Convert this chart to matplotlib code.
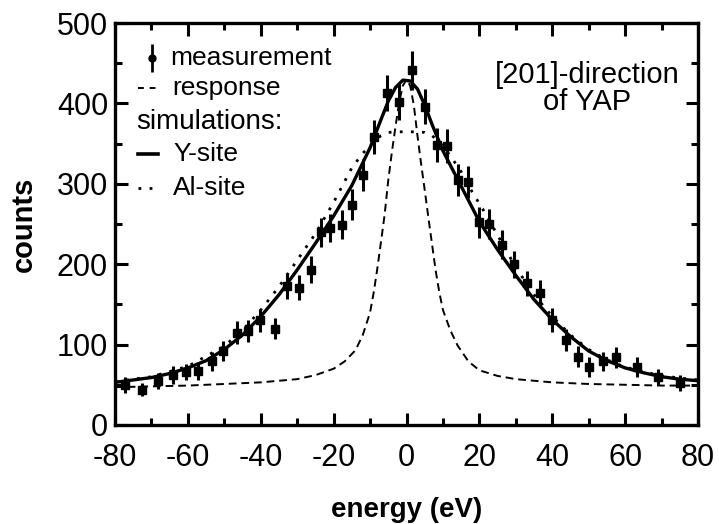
## energy spectrum along [201] of YAP: measurement vs response and site simulations

import numpy as np
import matplotlib
matplotlib.use("Agg")
import matplotlib.pyplot as plt
from matplotlib.ticker import MultipleLocator

plt.rcParams['font.family'] = ['Liberation Sans', 'DejaVu Sans']
plt.rcParams['axes.unicode_minus'] = False

# measured points (eV, counts, error)
meas_x = [-77.3, -72.5, -68.3, -64.0, -60.4, -57.2, -53.5, -50.3, -46.5, -43.4,
          -40.1, -36.2, -32.9, -29.5, -26.3, -23.5, -21.0, -17.8, -15.0, -12.0,
          -8.8, -5.4, -2.0, 1.5, 5.1, 8.5, 11.1, 14.0, 17.0, 19.8,
          22.7, 26.1, 29.5, 33.0, 36.6, 39.9, 43.8, 47.0, 50.2, 53.8,
          57.5, 63.3, 69.0, 75.0]
meas_y = [50, 44, 55, 62, 66, 67, 79, 92, 115, 117,
          130, 120, 173, 171, 193, 240, 245, 249, 274, 311,
          358, 413, 402, 441, 396, 348, 347, 305, 302, 252,
          250, 224, 200, 176, 164, 131, 106, 85, 72, 79,
          84, 72, 60, 52]
meas_err = [10, 8, 10, 11, 10, 11, 12, 13, 14, 14,
            14, 13, 16, 16, 17, 18, 18, 18, 19, 20,
            21, 22, 22, 24, 22, 21, 21, 20, 20, 19,
            19, 18, 17, 16, 16, 15, 14, 13, 12, 12,
            13, 12, 10, 10]

# response function (dashed)
resp_x = [-80, -70, -60, -50, -40, -30, -25, -20, -17, -14, -12, -10, -9, -8, -7,
          -6, -5, -4, -3, -2, -1, 0, 1, 2, 3, 4, 5, 6, 7, 8, 9, 10, 12, 14, 17,
          20, 25, 30, 40, 50, 60, 70, 80]
resp_y = [47, 48, 49, 51, 53, 57, 62, 70, 79, 93, 112, 140, 165, 195, 228,
          262, 305, 340, 372, 402, 422, 430, 422, 398, 360, 325, 292, 258, 225, 192, 165, 143, 118, 99, 79,
          68, 61, 57, 53, 51, 50, 49, 49]

# Y-site simulation (solid)
ysite_x = [-80, -75, -70, -65, -60, -55, -50, -45, -40, -35, -30, -25, -20, -15, -10,
           -7, -5, -3, -1, 1, 3, 5, 7, 10, 15, 20, 25, 30, 35, 40, 45, 50, 55, 60,
           65, 70, 75, 80]
ysite_y = [53, 56, 59, 64, 71, 80, 94, 112, 135, 162, 193, 226, 260, 298, 345,
           380, 403, 420, 429, 428, 418, 398, 374, 341, 297, 253, 218, 186, 156, 131, 110, 92, 80, 71,
           65, 60, 57, 55]

# Al-site simulation (dotted)
alsite_x = [-80, -70, -60, -50, -45, -40, -35, -30, -25, -20, -15, -12, -9, -7, -5,
            0, 5, 7, 9, 12, 15, 18, 21, 25, 30, 35, 40, 45, 50, 55, 60, 70, 80]
alsite_y = [54, 60, 73, 98, 118, 143, 172, 205, 238, 277, 320, 338, 352, 360, 364,
            365, 364, 360, 352, 335, 315, 290, 268, 236, 196, 162, 135, 112, 94, 81, 72, 61, 56]

fig = plt.figure(figsize=(7.19, 5.24), dpi=100)
ax = fig.add_axes([0.16, 0.189, 0.8108, 0.767])

ax.plot(resp_x, resp_y, color='black', lw=1.4, ls=(0, (4, 2.5)))
ax.plot(alsite_x, alsite_y, color='black', lw=2.0, ls=(0, (1, 3)))
ax.plot(ysite_x, ysite_y, color='black', lw=2.4, solid_capstyle='round')
ax.errorbar(meas_x, meas_y, yerr=meas_err, fmt='s', color='black', ms=5.5,
            elinewidth=2.2, capsize=0)

ax.set_xlim(-80, 80)
ax.set_ylim(0, 500)
ax.xaxis.set_major_locator(MultipleLocator(20))
ax.xaxis.set_minor_locator(MultipleLocator(10))
ax.yaxis.set_major_locator(MultipleLocator(100))
ax.yaxis.set_minor_locator(MultipleLocator(50))
ax.tick_params(which='both', direction='in', top=True, right=True, width=2.2, labelsize=22)
ax.tick_params(which='major', length=9)
ax.tick_params(axis='x', which='major', pad=13)
ax.tick_params(axis='y', which='major', pad=5)
ax.tick_params(which='minor', length=5)
for s in ax.spines.values():
    s.set_linewidth(2.4)

ax.set_xlabel('energy (eV)', fontsize=20, fontweight='bold', labelpad=17)
ax.set_ylabel('counts', fontsize=21, fontweight='bold', labelpad=14)

# legend drawn by hand
tr = ax.transAxes
ax.errorbar([0.063], [0.913], yerr=[0.035], fmt='o', color='black', ms=5,
            elinewidth=2, capsize=0, transform=tr)
ax.text(0.094, 0.913, 'measurement', transform=tr, fontsize=19, va='center')
ax.plot([0.040, 0.077], [0.838, 0.838], color='black', lw=1.4, ls=(0, (3, 3)), transform=tr)
ax.text(0.098, 0.838, 'response', transform=tr, fontsize=19, va='center')
ax.text(0.037, 0.754, 'simulations:', transform=tr, fontsize=20, va='center')
ax.plot([0.039, 0.074], [0.674, 0.674], color='black', lw=2.6, transform=tr)
ax.text(0.0995, 0.674, 'Y-site', transform=tr, fontsize=19, va='center')
ax.plot([0.040, 0.077], [0.590, 0.590], color='black', lw=2, ls=(0, (1, 3)), transform=tr)
ax.text(0.0995, 0.590, 'Al-site', transform=tr, fontsize=19, va='center')

ax.text(0.81, 0.870, '[201]-direction', transform=tr, fontsize=21, ha='center', va='center')
ax.text(0.81, 0.803, 'of YAP', transform=tr, fontsize=21, ha='center', va='center')

fig.savefig('out.png', dpi=100)
